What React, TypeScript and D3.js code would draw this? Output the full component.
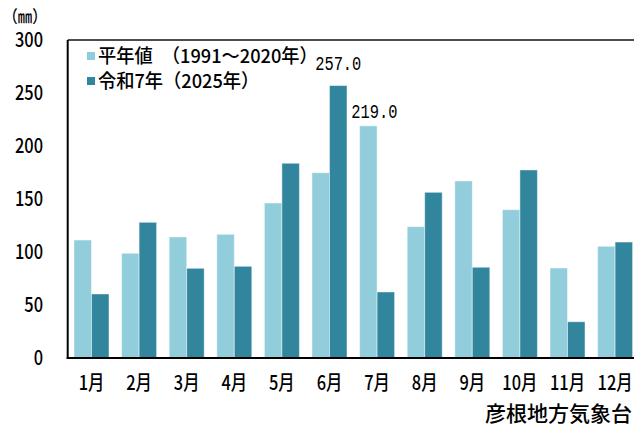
import React, { useEffect, useRef } from "react";
import * as d3 from "d3";

const months = ["1月", "2月", "3月", "4月", "5月", "6月", "7月", "8月", "9月", "10月", "11月", "12月"];
const normalValues = [111.3, 98.8, 114.2, 116.7, 146.2, 174.8, 219.0, 123.9, 167.0, 139.9, 84.9, 105.4];
const values2025 = [60.4, 128.0, 84.6, 86.5, 183.7, 257.0, 62.3, 156.3, 85.6, 177.4, 34.2, 109.4];
const seriesNames = ["平年値　（1991～2020年）", "令和7年（2025年）"];
const seriesColors = ["#92CDDC", "#31859C"];
const yTicks = [0, 50, 100, 150, 200, 250, 300];
// which bars get a value label
const callouts = [
  { month: "6月", series: 1, text: "257.0" },
  { month: "7月", series: 0, text: "219.0" },
];
const unitLabel = "（㎜）";
const sourceLabel = "彦根地方気象台";

const FONT = "'Noto Sans CJK JP', sans-serif";
const MONO = "'Liberation Mono', 'DejaVu Sans Mono', monospace";

const App = () => {
  const svgRef = useRef<SVGSVGElement>(null);

  useEffect(() => {
    const width = 634, height = 427;
    const svg = d3.select(svgRef.current);
    svg.selectAll("*").remove();
    svg.attr("width", width).attr("height", height);

    const left = 67.7, top = 40, bottom = 358;
    const step = 47.6;

    const y = d3.scaleLinear().domain([0, 300]).range([bottom, top]);
    const x = d3.scaleBand<string>()
      .domain(months)
      .range([left, left + step * months.length])
      .paddingInner(0.265)
      .paddingOuter(0.1325);
    const xs = d3.scaleBand<number>().domain([0, 1]).range([0, x.bandwidth()]);

    const text = (str: string, tx: number, ty: number, size: number, anchor: string, sx = 0.82, family = FONT) =>
      svg.append("text")
        .attr("transform", `translate(${tx},${ty}) scale(${sx},1)`)
        .attr("text-anchor", anchor)
        .attr("font-family", family)
        .attr("font-size", size)
        .attr("font-weight", 500)
        .attr("fill", "#000")
        .text(str);

    // bars
    const series = [normalValues, values2025];
    series.forEach((vals, si) => {
      svg.append("g")
        .selectAll("rect")
        .data(vals)
        .enter()
        .append("rect")
        .attr("x", (d, i) => x(months[i])! + xs(si)!)
        .attr("y", d => y(d))
        .attr("width", xs.bandwidth())
        .attr("height", d => y(0) - y(d))
        .attr("fill", seriesColors[si])
        .attr("stroke", "rgba(255,255,255,0.45)")
        .attr("stroke-width", 1);
    });

    // plot frame
    svg.append("line").attr("x1", left).attr("x2", width).attr("y1", top).attr("y2", top)
      .attr("stroke", "#111").attr("stroke-width", 1.5);
    svg.append("line").attr("x1", left).attr("x2", left).attr("y1", top).attr("y2", bottom + 1)
      .attr("stroke", "#000").attr("stroke-width", 2);
    svg.append("line").attr("x1", left - 1).attr("x2", width).attr("y1", bottom).attr("y2", bottom)
      .attr("stroke", "#000").attr("stroke-width", 2);

    // y tick labels
    yTicks.forEach(t => text(String(t), 43, y(t) + 7, 20, "end"));
    text(unitLabel, 25, 23, 17, "middle", 0.85);

    // month labels
    months.forEach(m => text(m, x(m)! + x.bandwidth() / 2, 390, 20, "middle"));

    // callouts
    callouts.forEach((c, k) => {
      const vals = series[c.series];
      const i = months.indexOf(c.month);
      const cx = x(c.month)! + xs(c.series)! + xs.bandwidth() / 2;
      const dx = k === 0 ? 0 : 6;
      const dy = k === 0 ? 16 : 8;
      text(c.text, cx + dx, y(vals[i]) - dy, 20, "middle", 0.77, MONO);
    });

    // legend
    seriesNames.forEach((name, si) => {
      const ly = 56 + si * 25;
      svg.append("rect").attr("x", 87).attr("y", ly - 4).attr("width", 8).attr("height", 8)
        .attr("fill", seriesColors[si]);
      text(name, 98, ly + 7, 19, "start", 0.96);
    });

    // source
    text(sourceLabel, 632, 421, 21, "end", 1);
  }, []);

  return (
    <div style={{ position: "absolute", left: 0, top: 0 }}>
      <svg ref={svgRef} style={{ display: "block" }}></svg>
    </div>
  );
};

export default App;
